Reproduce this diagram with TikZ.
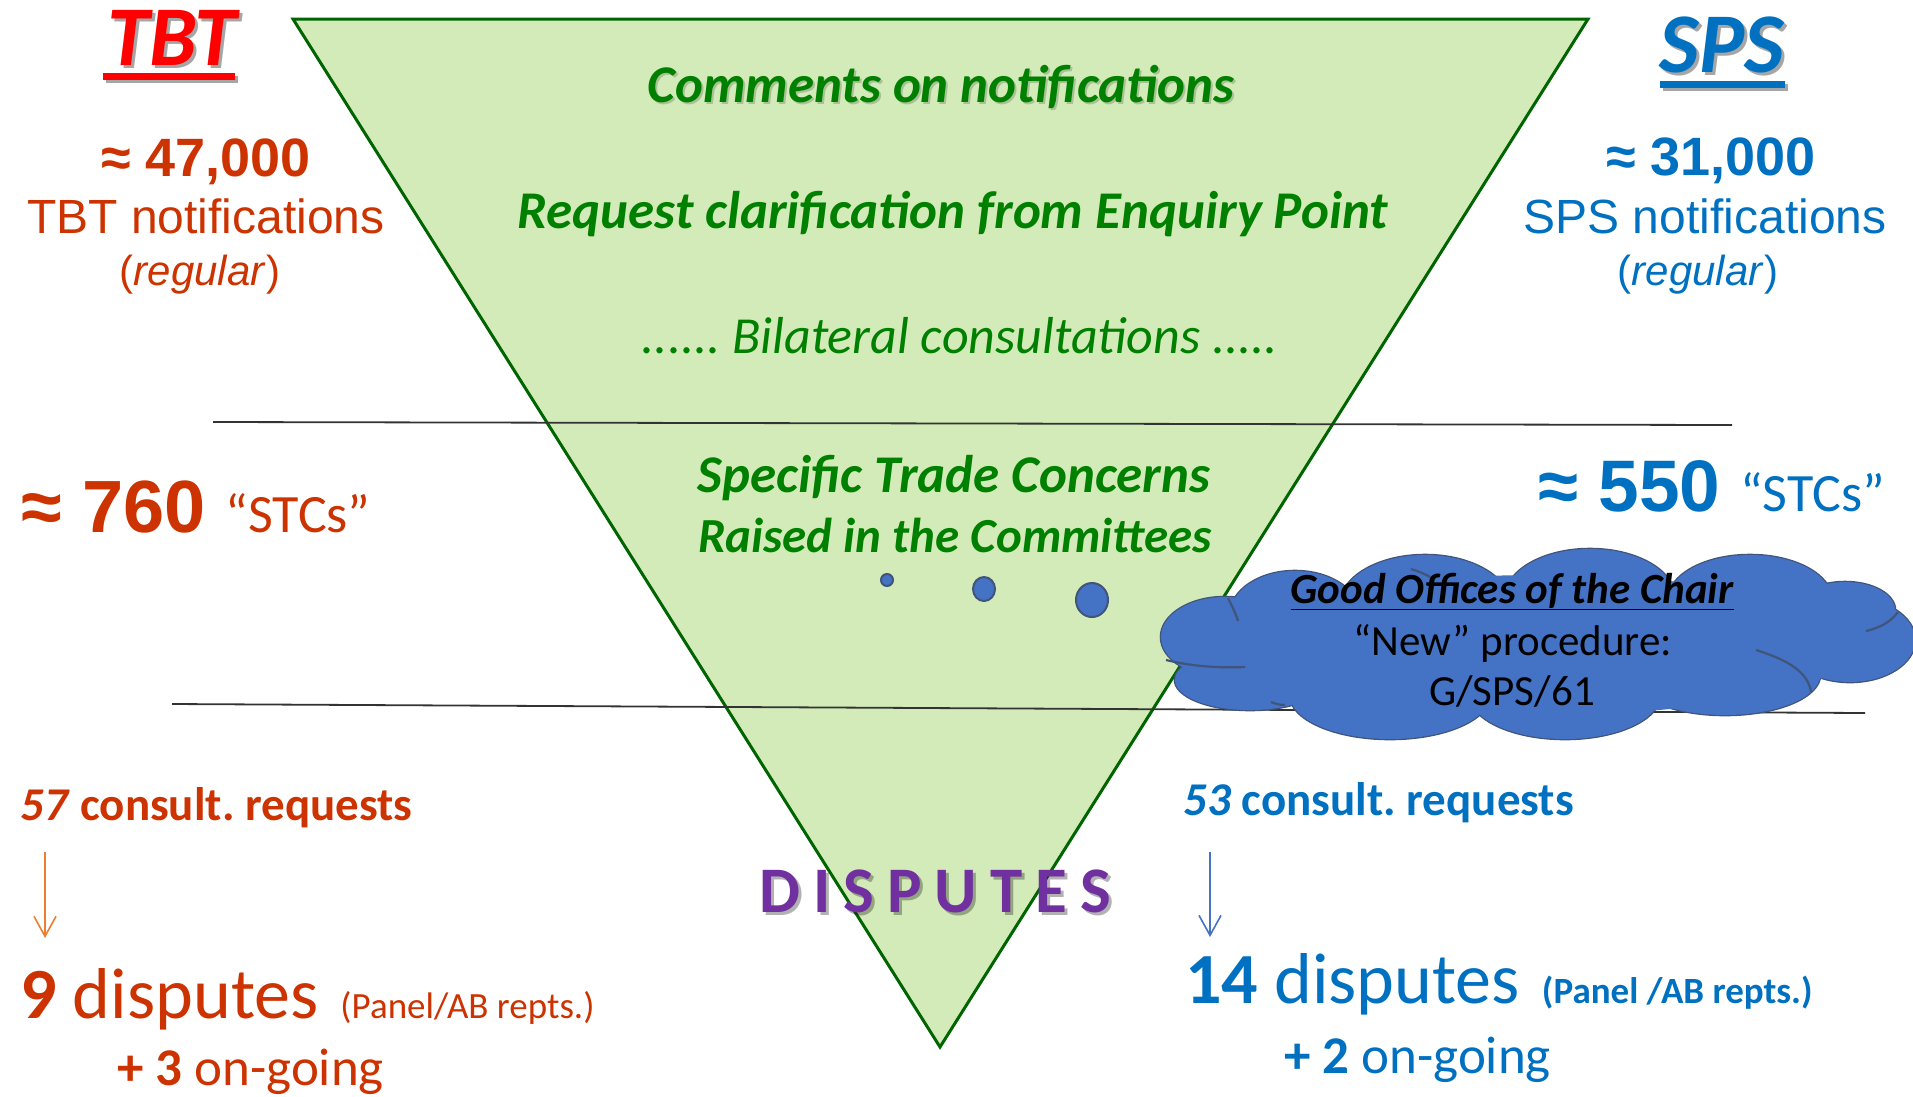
\documentclass[tikz,border=0pt]{standalone}
\usepackage{fontspec}
\setmainfont{Carlito}
\newfontfamily\arialf{Liberation Sans}
\usetikzlibrary{arrows.meta}
\definecolor{trifill}{RGB}{211,235,185}
\definecolor{triline}{RGB}{0,100,0}
\definecolor{tgreen}{RGB}{0,128,0}
\definecolor{tbtred}{RGB}{255,0,0}
\definecolor{rust}{RGB}{204,51,0}
\definecolor{spsblue}{RGB}{0,112,192}
\definecolor{purp}{RGB}{112,48,160}
\definecolor{cloudfill}{RGB}{68,114,196}
\definecolor{cloudline}{RGB}{65,85,122}
\definecolor{arrorange}{RGB}{237,125,49}
\definecolor{arrblue}{RGB}{68,114,196}
\newcommand{\fsz}[1]{\fontsize{#1pt}{#1pt}\selectfont}
\frenchspacing
\begin{document}
\begin{tikzpicture}[x=1pt,y=-1pt,
  txt/.style={inner sep=0pt,anchor=base},
  ltxt/.style={inner sep=0pt,anchor=base west},
  tri/.style={fill=trifill,draw=triline,line width=3pt,line join=miter},
  sepline/.style={draw=black!80,line width=1.8pt},
  bubble/.style={fill=cloudfill,draw=cloudline,line width=2pt},
  cloudedge/.style={draw=cloudline,line width=2.6pt},
  cloudarc/.style={draw=cloudline,line width=2.2pt},
  arr/.style={-{Straight Barb[length=20pt,width=22pt]},line width=1.6pt},
  shadowtxt/.style={inner sep=0pt,anchor=base,text=black,opacity=0.35},
  title/.style={font=\fsz{85}\bfseries\itshape},
  green/.style={font=\fsz{53}\bfseries\itshape,text=tgreen}]
\path[use as bounding box] (0,0) rectangle (1913,1096);

% funnel
\filldraw[tri] (293,19) -- (1588,19) -- (940,1047) -- cycle;

% separators
\draw[sepline] (213,422) -- (1732,425);
\draw[sepline] (172,704) -- (1865,713);

% thought bubbles
\filldraw[bubble] (887,580) circle[radius=6pt];
\filldraw[bubble] (984,589) ellipse[x radius=11pt,y radius=12pt];
\filldraw[bubble] (1092,600) ellipse[x radius=16pt,y radius=17pt];

% cloud
\foreach \cx/\cy/\rx/\ry in {1225/637/64/40,1250/680/75/30,1390/695/100/44,1565/695/95/44,1725/675/95/40,1850/640/65/42,1845/610/50/28,1750/600/82/45,1590/598/85/49,1425/605/85/50,1295/615/65/44}
  \draw[cloudedge] (\cx,\cy) ellipse[x radius=\rx pt,y radius=\ry pt];
\foreach \cx/\cy/\rx/\ry in {1225/637/64/40,1250/680/75/30,1390/695/100/44,1565/695/95/44,1725/675/95/40,1850/640/65/42,1845/610/50/28,1750/600/82/45,1590/598/85/49,1425/605/85/50,1295/615/65/44,1540/645/320/70}
  \fill[cloudfill] (\cx,\cy) ellipse[x radius=\rx pt,y radius=\ry pt];
\draw[cloudarc] (1166,660) .. controls (1195,667) and (1222,668) .. (1245,667);
\draw[cloudarc] (1228,598) .. controls (1232,606) and (1236,614) .. (1238,621);
\draw[cloudarc] (1271,702) .. controls (1276,704) and (1280,705) .. (1285,705);
\draw[cloudarc] (1756,650) .. controls (1788,660) and (1808,672) .. (1811,692);
\draw[cloudarc] (1866,631) .. controls (1883,627) and (1892,620) .. (1898,612);
\draw[cloudarc] (1411,569) .. controls (1418,571) and (1425,574) .. (1432,578);

% titles
\node[shadowtxt,title] (tbtsh) at (175,68) {TBT};
\fill[black,opacity=0.35] (106,76) rectangle (238,83);
\node[txt,title,text=tbtred] (tbt) at (172,65) {TBT};
\fill[tbtred] (103,73) rectangle (235,80);

\node[shadowtxt,title] (spssh) at (1725,75) {SPS};
\fill[black,opacity=0.35] (1663,84) rectangle (1788,91);
\node[txt,title,text=spsblue] (sps) at (1722,72) {SPS};
\fill[spsblue] (1660,81) rectangle (1785,88);

% notifications
\node[txt,text=rust,font=\arialf\bfseries\fsz{54}] (tbtnum) at (206,176) {≈ 47,000};
\node[txt,text=rust,font=\arialf\fsz{48}] (tbtnot) at (206,233) {TBT notifications};
\node[txt,text=rust,font=\arialf\fsz{42}] (tbtreg) at (200,285) {(\textit{regular})};

\node[txt,text=spsblue,font=\arialf\bfseries\fsz{54}] (spsnum) at (1711,175) {≈ 31,000};
\node[txt,text=spsblue,font=\arialf\fsz{48}] (spsnot) at (1705,233) {SPS notifications};
\node[txt,text=spsblue,font=\arialf\fsz{42}] (spsreg) at (1698,285) {(\textit{regular})};

% funnel texts
\node[txt,font=\fsz{53}\bfseries\itshape,text=black,opacity=0.18] (commsh) at (943,104) {Comments on notifications};
\node[txt,green] (comm) at (941,102) {Comments on notifications};
\node[txt,green] (req) at (953,228) {Request clarification from Enquiry Point};
\node[txt,font=\fsz{52}\itshape,text=tgreen] (bil) at (960,353) {...... Bilateral consultations .....};
\node[txt,green] (stc1) at (954,492) {Specific Trade Concerns};
\node[txt,green,font=\fsz{49}\bfseries\itshape] (stc2) at (955,552) {Raised in the Committees};

% STCs
\node[ltxt,text=rust] (stcl) at (21,532) {{\arialf\bfseries\fsz{74}≈ 760}\kern20pt{\fsz{54}“STCs”}};
\node[ltxt,text=spsblue] (stcr) at (1538,511) {{\arialf\bfseries\fsz{73}≈ 550}\kern20pt{\fsz{54}“STCs”}};

% cloud text
\node[txt,font=\fsz{43}\bfseries\itshape] (good) at (1512,603) {\underline{Good Offices of the Chair}};
\node[txt,font=\fsz{43}] (newp) at (1513,655) {“New” procedure:};
\node[txt,font=\fsz{43}] (gsps) at (1512,705) {G/SPS/61};

% DISPUTES
\node[shadowtxt,font=\fsz{65}\bfseries,opacity=0.3] (dispsh) at (938,915) {D\kern13pt I\kern13pt S\kern13pt P\kern13pt U\kern13pt T\kern13pt E\kern13pt S};
\node[txt,font=\fsz{65}\bfseries,text=purp] (disp) at (935,912) {D\kern13pt I\kern13pt S\kern13pt P\kern13pt U\kern13pt T\kern13pt E\kern13pt S};

% left bottom
\node[ltxt,font=\fsz{47}\bfseries,text=rust] (req57) at (20,820) {\textit{57} consult. requests};
\coordinate (a1s) at (45,852);
\coordinate (a1e) at (45,938);
\draw[arr,arrorange] (a1s) -- (a1e);
\node[ltxt,font=\fsz{72},text=rust] (disp9) at (20,1018) {\textbf{9} disputes\kern22pt{\fsz{37}(Panel/AB repts.)}};
\node[ltxt,font=\fsz{53},text=rust] (ong3) at (117,1085) {\textbf{+ 3} on-going};

% right bottom
\node[ltxt,font=\fsz{47}\bfseries,text=spsblue] (req53) at (1183,815) {\textit{53} consult. requests};
\coordinate (a2s) at (1210,852);
\coordinate (a2e) at (1210,937);
\draw[arr,arrblue] (a2s) -- (a2e);
\node[ltxt,font=\fsz{72},text=spsblue] (disp14) at (1185,1003) {\textbf{14} disputes\kern22pt{\fsz{37}\bfseries(Panel /AB repts.)}};
\node[ltxt,font=\fsz{53},text=spsblue] (ong2) at (1284,1073) {\textbf{+ 2} on-going};
\end{tikzpicture}
\end{document}
